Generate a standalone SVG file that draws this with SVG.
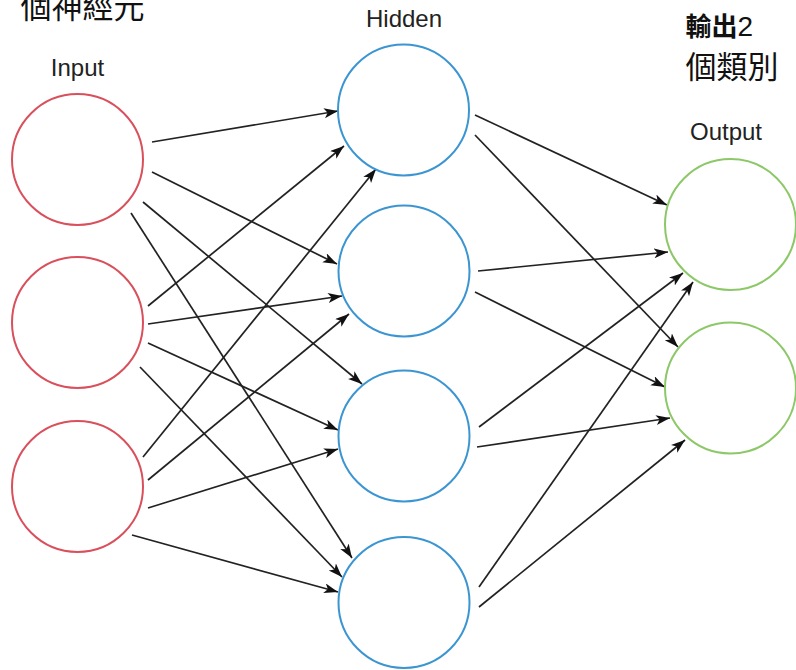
<svg xmlns="http://www.w3.org/2000/svg" width="796" height="670" viewBox="0 0 796 670">
  <style>
    .bg { fill: #ffffff; }
    .node { fill: #ffffff; stroke-width: 2; }
    .in { stroke: #d9505c; }
    .hid { stroke: #3b95d2; }
    .out { stroke: #8cc868; }
    .label { font-family: "Liberation Sans", Arial, sans-serif; font-size: 24px; fill: #222222; text-anchor: middle; }
    .cjk { font-family: "Noto Sans CJK TC", "Noto Sans CJK SC", sans-serif; fill: #111111; }
    .edge { stroke: #222222; stroke-width: 1.7; fill: none; marker-end: url(#arrow); }
  </style>
  <defs>
    <marker id="arrow" markerUnits="userSpaceOnUse" markerWidth="16" markerHeight="12" refX="14" refY="5" orient="auto">
      <path d="M0,0 L14,5 L0,10 L3.5,5 Z" fill="#111111"/>
    </marker>
  </defs>
  <rect class="bg" x="0" y="0" width="796" height="670"/>

  <!-- annotations -->
  <text class="cjk" x="20.5" y="17.5" font-size="31">個神經元</text>
  <text class="cjk" x="685.5" y="35.5" font-size="26"><tspan font-weight="bold">輸出</tspan><tspan font-family="Liberation Sans, Arial, sans-serif" font-size="28">2</tspan></text>
  <text class="cjk" x="685.5" y="78" font-size="31">個類別</text>

  <!-- layer titles -->
  <text class="label" x="77.5" y="76">Input</text>
  <text class="label" x="404" y="27">Hidden</text>
  <text class="label" x="726" y="140">Output</text>

  <!-- connectors -->
  <g id="connectors">
    <line class="edge" x1="152" y1="142" x2="338" y2="111"/>
    <line class="edge" x1="152" y1="172" x2="337" y2="264"/>
    <line class="edge" x1="143" y1="202" x2="362" y2="384"/>
    <line class="edge" x1="131" y1="213" x2="352" y2="558"/>
    <line class="edge" x1="148" y1="306" x2="344" y2="146"/>
    <line class="edge" x1="148" y1="324" x2="342" y2="296"/>
    <line class="edge" x1="148" y1="343" x2="338" y2="430"/>
    <line class="edge" x1="140" y1="367" x2="342" y2="577"/>
    <line class="edge" x1="143" y1="457" x2="376" y2="169"/>
    <line class="edge" x1="148" y1="480" x2="349" y2="314"/>
    <line class="edge" x1="148" y1="508" x2="338" y2="449"/>
    <line class="edge" x1="132" y1="535" x2="338" y2="592"/>
    <line class="edge" x1="475" y1="115" x2="667" y2="205"/>
    <line class="edge" x1="475" y1="135" x2="678" y2="347"/>
    <line class="edge" x1="478" y1="271" x2="668" y2="252"/>
    <line class="edge" x1="475" y1="292" x2="665" y2="387"/>
    <line class="edge" x1="479" y1="427" x2="683" y2="273"/>
    <line class="edge" x1="477" y1="447" x2="670" y2="418"/>
    <line class="edge" x1="479" y1="587" x2="693" y2="282"/>
    <line class="edge" x1="479" y1="607" x2="685" y2="440"/>
  </g>

  <!-- input layer -->
  <g id="input-1"><circle class="node in" cx="77.5" cy="159.5" r="65.5"/></g>
  <g id="input-2"><circle class="node in" cx="77.5" cy="322.5" r="65.5"/></g>
  <g id="input-3"><circle class="node in" cx="77.5" cy="486.5" r="65.5"/></g>

  <!-- hidden layer -->
  <g id="hidden-1"><circle class="node hid" cx="403.5" cy="110" r="65.5"/></g>
  <g id="hidden-2"><circle class="node hid" cx="404" cy="271" r="65.5"/></g>
  <g id="hidden-3"><circle class="node hid" cx="404" cy="436" r="65.5"/></g>
  <g id="hidden-4"><circle class="node hid" cx="404" cy="602.5" r="65.5"/></g>

  <!-- output layer -->
  <g id="output-1"><circle class="node out" cx="730.5" cy="224.5" r="65.5"/></g>
  <g id="output-2"><circle class="node out" cx="730.5" cy="388" r="65.5"/></g>
</svg>
